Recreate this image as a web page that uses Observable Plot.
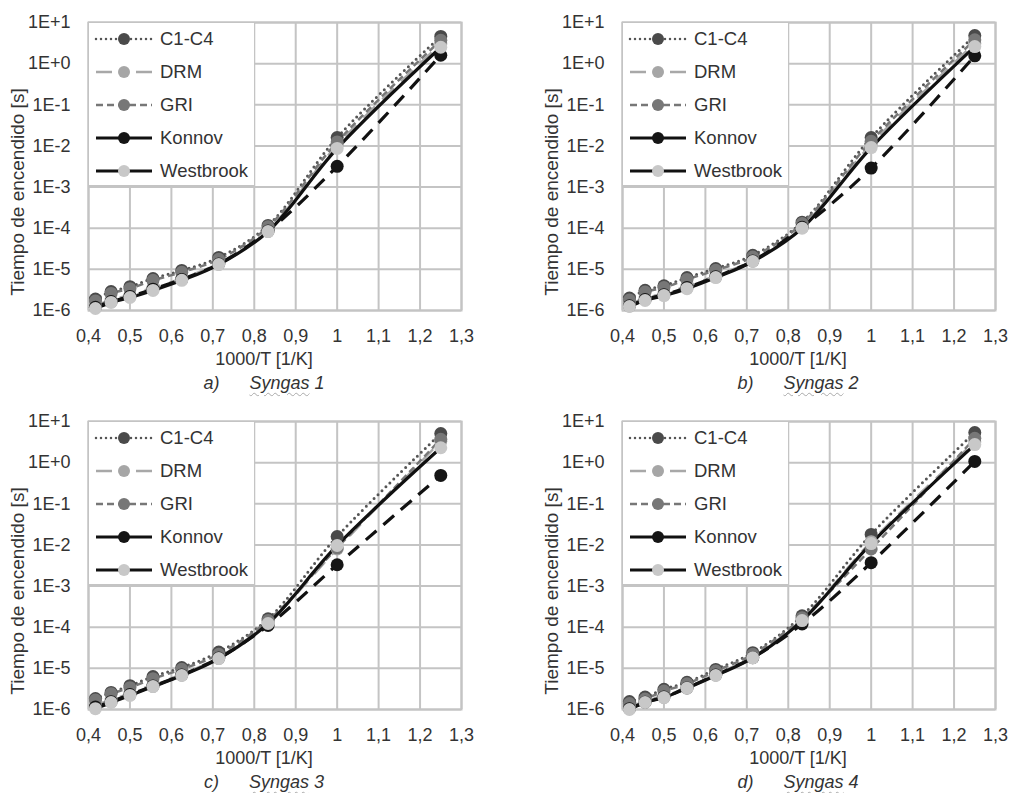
<!DOCTYPE html>
<html><head><meta charset="utf-8">
<script src="https://cdn.jsdelivr.net/npm/d3@7"></script>
<script src="https://cdn.jsdelivr.net/npm/@observablehq/plot@0.6"></script>
<style>
body{margin:0;background:#fff;}
#root{position:relative;width:1012px;height:793px;background:#fff;font-family:"Liberation Sans",Arial,sans-serif;color:#333;overflow:hidden}
.abs{position:absolute}
.legend{position:absolute;background:#fff;border:1.5px solid #c4c4c4;box-sizing:border-box;width:167px;height:164px}
.lrow{position:absolute;left:0;height:30px;width:165px}
.lrow svg{position:absolute;left:5px;top:0}
.lrow span{position:absolute;left:71px;top:4px;font-size:18.5px;line-height:22px;color:#333;white-space:nowrap}
.ytitle{position:absolute;font-size:19px;white-space:nowrap;transform:translate(-50%,-50%) rotate(-90deg);color:#333}
.xtitle{position:absolute;font-size:18px;white-space:nowrap;transform:translate(-50%,-50%);color:#333}
.cap{position:absolute;font-size:18px;font-style:italic;white-space:nowrap;transform:translate(-50%,-50%);color:#333}
.cap .s{text-decoration:underline wavy #aaa;text-decoration-thickness:1px;text-underline-offset:3px}
</style>
</head><body><div id="root"></div>
<script>
// x values: 1000/T for T = 2400 ... 800 K
const invT = [0.4167, 0.4545, 0.5, 0.5556, 0.625, 0.7143, 0.8333, 1.0, 1.25];
const seriesNames = ["C1-C4", "DRM", "GRI", "Konnov", "Westbrook"];
const xTicks = [0.4, 0.5, 0.6, 0.7, 0.8, 0.9, 1.0, 1.1, 1.2, 1.3];
const yTicks = [1e-6, 1e-5, 1e-4, 1e-3, 1e-2, 1e-1, 1, 10];
const yTickLabels = ["1E-6", "1E-5", "1E-4", "1E-3", "1E-2", "1E-1", "1E+0", "1E+1"];
const panelLetters = ["a)", "b)", "c)", "d)"];
const panelNames = ["Syngas 1", "Syngas 2", "Syngas 3", "Syngas 4"];

// Syngas 1
const c1c4_a = [1.9e-6, 2.9e-6, 3.8e-6, 6.0e-6, 9.4e-6, 1.95e-5, 1.17e-4, 1.6e-2, 4.6];
const drm_a  = [1.3e-6, 1.8e-6, 2.4e-6, 3.6e-6, 6.0e-6, 1.4e-5, 9.0e-5, 1.05e-2, 3.0];
const gri_a  = [1.7e-6, 2.6e-6, 3.4e-6, 5.4e-6, 8.5e-6, 1.75e-5, 1.08e-4, 1.25e-2, 3.7];
const konnov_a = [1.2e-6, 1.65e-6, 2.2e-6, 3.3e-6, 5.7e-6, 1.35e-5, 8.5e-5, 3.2e-3, 1.6];
const west_a = [1.12e-6, 1.57e-6, 2.07e-6, 3.07e-6, 5.4e-6, 1.31e-5, 8.3e-5, 8.7e-3, 2.5];
// Syngas 2
const c1c4_b = [2.0e-6, 3.1e-6, 4.0e-6, 6.3e-6, 1.05e-5, 2.2e-5, 1.4e-4, 1.6e-2, 4.8];
const drm_b  = [1.4e-6, 2.0e-6, 2.6e-6, 3.9e-6, 7.0e-6, 1.65e-5, 1.1e-4, 1.1e-2, 3.1];
const gri_b  = [1.8e-6, 2.8e-6, 3.6e-6, 5.7e-6, 9.5e-6, 2.0e-5, 1.3e-4, 1.3e-2, 3.8];
const konnov_b = [1.3e-6, 1.85e-6, 2.4e-6, 3.6e-6, 6.6e-6, 1.6e-5, 1.05e-4, 2.9e-3, 1.55];
const west_b = [1.25e-6, 1.75e-6, 2.3e-6, 3.4e-6, 6.3e-6, 1.55e-5, 1.0e-4, 9.1e-3, 2.6];
// Syngas 3
const c1c4_c = [1.85e-6, 2.6e-6, 3.8e-6, 6.3e-6, 1.05e-5, 2.5e-5, 1.6e-4, 1.6e-2, 5.1];
const drm_c  = [1.3e-6, 1.7e-6, 2.5e-6, 4.0e-6, 7.2e-6, 1.85e-5, 1.3e-4, 8.0e-3, 3.3];
const gri_c  = [1.7e-6, 2.4e-6, 3.4e-6, 5.6e-6, 9.5e-6, 2.2e-5, 1.45e-4, 8.5e-3, 3.7];
const konnov_c = [1.15e-6, 1.55e-6, 2.3e-6, 3.7e-6, 6.9e-6, 1.78e-5, 1.1e-4, 3.3e-3, 0.49];
const west_c = [1.05e-6, 1.48e-6, 2.2e-6, 3.6e-6, 6.7e-6, 1.73e-5, 1.23e-4, 9.7e-3, 2.3];
// Syngas 4
const c1c4_d = [1.56e-6, 2.0e-6, 3.1e-6, 4.6e-6, 9.4e-6, 2.4e-5, 1.9e-4, 1.8e-2, 5.4];
const drm_d  = [1.15e-6, 1.6e-6, 2.2e-6, 3.5e-6, 7.2e-6, 1.9e-5, 1.55e-4, 1.2e-2, 3.2];
const gri_d  = [1.4e-6, 1.8e-6, 2.8e-6, 4.2e-6, 8.6e-6, 2.2e-5, 1.7e-4, 8.0e-3, 3.9];
const konnov_d = [1.05e-6, 1.5e-6, 2.0e-6, 3.35e-6, 6.9e-6, 1.82e-5, 1.2e-4, 3.7e-3, 1.07];
const west_d = [1.0e-6, 1.48e-6, 1.95e-6, 3.3e-6, 6.7e-6, 1.8e-5, 1.45e-4, 1.08e-2, 2.75];

const panelData = [
  [c1c4_a, drm_a, gri_a, konnov_a, west_a],
  [c1c4_b, drm_b, gri_b, konnov_b, west_b],
  [c1c4_c, drm_c, gri_c, konnov_c, west_c],
  [c1c4_d, drm_d, gri_d, konnov_d, west_d]
];

// styles
const lineStyle = {
  "C1-C4":    {stroke:"#555", strokeWidth:3, strokeDasharray:"0,5.5", strokeLinecap:"round"},
  "DRM":      {stroke:"#a8a8a8", strokeWidth:2.5, strokeDasharray:"16,10", strokeLinecap:"butt"},
  "GRI":      {stroke:"#777", strokeWidth:2.5, strokeDasharray:"7,4", strokeLinecap:"butt"},
  "Konnov":   {stroke:"#111", strokeWidth:3.2, strokeDasharray:"14,9", strokeLinecap:"butt"},
  "Westbrook":{stroke:"#111", strokeWidth:3.2, strokeDasharray:null, strokeLinecap:"butt"}
};
const legendLine = {
  "C1-C4":    {stroke:"#555", w:2.5, dash:"0,5", cap:"round"},
  "DRM":      {stroke:"#a8a8a8", w:2.5, dash:"16,24,16", cap:"butt"},
  "GRI":      {stroke:"#777", w:2.5, dash:"7,4", cap:"butt"},
  "Konnov":   {stroke:"#111", w:3, dash:null, cap:"butt"},
  "Westbrook":{stroke:"#111", w:3, dash:null, cap:"butt"}
};
const markerColor = {"C1-C4":"#4a4a4a", "DRM":"#a6a6a6", "GRI":"#777", "Konnov":"#151515", "Westbrook":"#c8c8c8"};

const FRAME_W = 373, FRAME_H = 288;
const positions = [
  {svgLeft:0,   svgTop:0,   width:500},
  {svgLeft:534, svgTop:0,   width:478},
  {svgLeft:0,   svgTop:399, width:500},
  {svgLeft:534, svgTop:399, width:478}
];
const ML = 88, MT = 22;

const root = document.getElementById("root");
const fmtX = d => String(d).replace(".", ",");
const fmtY = d => yTickLabels[yTicks.indexOf(d)];

panelData.forEach((vals, p) => {
  const pos = positions[p];
  const rows = [];
  seriesNames.forEach((n, i) => vals[i].forEach((v, j) => rows.push({series:n, x:invT[j], y:v})));
  const grid = {stroke:"#c4c4c4", strokeOpacity:1, strokeWidth:2};
  const chart = Plot.plot({
    width: pos.width, height: 360,
    marginLeft: ML, marginTop: MT, marginBottom: 360 - MT - FRAME_H, marginRight: pos.width - ML - FRAME_W,
    x: {domain:[0.4, 1.3]},
    y: {type:"log", domain:[1e-6, 10]},
    style: {fontFamily:'"Liberation Sans", Arial, sans-serif', fontSize:"18px", color:"#333", background:"transparent", overflow:"visible"},
    marks: [
      Plot.gridX(xTicks, grid),
      Plot.gridY(yTicks, grid),
      Plot.frame({stroke:"#c4c4c4", strokeWidth:2}),
      Plot.axisX(xTicks, {tickSize:0, tickPadding:19, tickFormat:fmtX, label:null, fontSize:18}),
      Plot.axisY(yTicks, {tickSize:0, tickPadding:18, tickFormat:fmtY, label:null, fontSize:18}),
      ...seriesNames.map(n => Plot.line(rows.filter(r => r.series === n), {
        x:"x", y:"y", curve:"catmull-rom", ...lineStyle[n]
      })),
      ...seriesNames.map(n => Plot.dot(rows.filter(r => r.series === n), {
        x:"x", y:"y", r:6.5, fill:markerColor[n], stroke:"none"
      }))
    ]
  });
  const holder = document.createElement("div");
  holder.className = "abs";
  holder.style.left = pos.svgLeft + "px";
  holder.style.top = pos.svgTop + "px";
  holder.appendChild(chart);
  root.appendChild(holder);

  const fL = pos.svgLeft + ML, fT = pos.svgTop + MT, fB = fT + FRAME_H;

  // legend
  const lg = document.createElement("div");
  lg.className = "legend";
  lg.style.left = fL + "px";
  lg.style.top = fT + "px";
  seriesNames.forEach((n, i) => {
    const s = legendLine[n];
    const row = document.createElement("div");
    row.className = "lrow";
    row.style.top = (1 + i * 33) + "px";
    row.innerHTML =
      `<svg width="60" height="30"><line x1="2" x2="58" y1="15" y2="15" stroke="${s.stroke}" stroke-width="${s.w}" ${s.dash ? `stroke-dasharray="${s.dash}"` : ""} stroke-linecap="${s.cap}"/>` +
      `<circle cx="30" cy="15" r="6" fill="${markerColor[n]}"/></svg><span>${n}</span>`;
    lg.appendChild(row);
  });
  root.appendChild(lg);

  // y title
  const yt = document.createElement("div");
  yt.className = "ytitle";
  yt.textContent = "Tiempo de encendido [s]";
  yt.style.left = (fL - 70) + "px";
  yt.style.top = (fT + 170) + "px";
  root.appendChild(yt);

  // x title
  const xt = document.createElement("div");
  xt.className = "xtitle";
  xt.textContent = "1000/T [1/K]";
  xt.style.left = (fL + 176) + "px";
  xt.style.top = (fB + 49) + "px";
  root.appendChild(xt);

  // caption
  const cp = document.createElement("div");
  cp.className = "cap";
  const parts = panelNames[p].split(" ");
  cp.innerHTML = `${panelLetters[p]}<span style="display:inline-block;width:30px"></span><span class="s">${parts[0]}</span> ${parts[1]}`;
  cp.style.left = (fL + 176) + "px";
  cp.style.top = (fB + 73) + "px";
  root.appendChild(cp);
});
</script>
</body></html>
